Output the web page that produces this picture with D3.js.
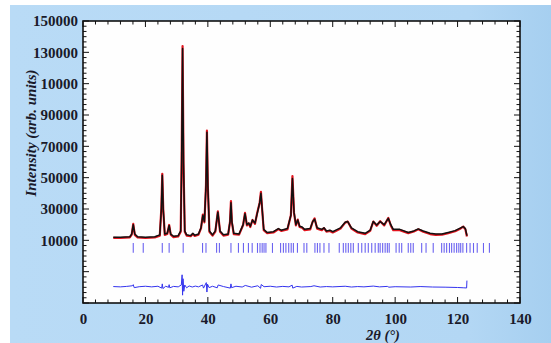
<!DOCTYPE html>
<html><head><meta charset="utf-8">
<script src="https://cdn.jsdelivr.net/npm/d3@7"></script>
<style>html,body{margin:0;padding:0;background:#fff;}svg{display:block;}</style>
</head><body>
<svg id="c" width="551" height="343"></svg>
<script>
// ---- data ----
const twoTheta = [9.7,12,15,15.6,16.1,16.6,17.5,20,23,24.6,25.1,25.4,25.7,26.2,27.0,27.6,28.1,29,30.5,31.3,31.6,31.9,32.2,32.6,33.2,34.5,35.2,35.8,37.0,37.8,38.4,38.9,39.4,39.7,40.0,40.5,41.5,42.4,43.2,43.9,45,46.5,47.1,47.4,47.7,48.3,50,51.3,51.9,52.5,53.1,53.6,54.3,55.1,55.8,56.6,57.0,57.4,57.9,59,61,62.6,63.5,65.5,66.6,67.1,67.6,68.2,68.8,69.4,70.2,71,72.8,73.6,74.2,75,76.5,77.2,78,79.1,80,81,82.5,84,84.8,86,88,90.4,92,93,94.1,95.2,96.5,97.8,98.6,99.4,101.5,104.2,106,107.4,109,111.2,113,115,117,119.2,121,121.8,122.5,123];
const calcIntensity = [12000,12000,12300,14000,20000,14000,12300,12000,12300,13500,30000,51500,30000,14000,14500,19500,14000,12600,13000,16000,60000,132500,60000,16000,13500,13000,14500,13200,14000,18000,26000,22000,45000,79000,45000,16000,13500,16000,28000,16000,13500,14000,22000,34000,22000,14500,14000,20000,27000,20000,21000,19000,23000,21000,27000,34000,40000,30000,17000,15000,15500,17500,16500,17500,26000,49500,28000,20000,23000,19000,18500,17000,17500,22000,23500,18000,17000,18000,16000,16500,15500,16500,18000,21500,22000,18000,15500,14500,16500,22000,19800,22000,20000,24000,20000,17000,17000,15000,16000,17300,16000,14500,14000,14000,15000,16200,18000,18800,17500,13000];
const obsIntensity = [11600,11500,11900,13600,20500,13500,11800,11500,11800,13000,30500,52500,30000,13500,14000,19800,13600,12100,12500,15500,60000,134000,59000,15500,13000,12600,14000,12800,13600,17600,26500,21500,45000,80000,44000,15500,13000,15600,28500,15500,13000,13600,22000,35000,21500,14000,13600,19800,27500,19500,20800,18500,23000,20500,27500,34000,41000,29500,16500,14600,15000,17200,16000,17000,26000,51000,27500,19500,23200,18500,18000,16500,17000,22000,24000,17500,16500,17800,15500,16000,15000,16000,17500,21300,22000,17500,15000,14000,16000,22000,19300,22200,19500,24300,19500,16500,16500,14600,15600,17000,15500,14000,13500,13600,14500,15800,17600,18800,17000,12500];
const diffTheta = [9.7,12,14,15.8,16.1,16.4,18,20,22,24,25.2,25.4,25.6,26.5,27.4,27.6,27.8,29,30.5,31.5,31.75,31.9,32.05,32.3,32.6,33.2,34,35,36,37,38.3,38.6,39.5,39.7,39.9,40.4,41.5,43,43.3,45,47.2,47.4,47.6,49,51,52,54,56,56.9,57.1,58,60,62,64,66,67,67.2,68.5,70,73,74,76,78,80,84,86,88,90,93,95,97.5,98,100,105,108,112,116,120,122,122.9,123];
const diffIntensity = [-19500,-19700,-19400,-19000,-18300,-20200,-19600,-19300,-19700,-19300,-20500,-17800,-20800,-19300,-20000,-18300,-20300,-19400,-19700,-18500,-12000,-25000,-14500,-22500,-18500,-20300,-19100,-19800,-19200,-19700,-18500,-20500,-17000,-23000,-18000,-20200,-19300,-20300,-18500,-19500,-20500,-17800,-20200,-19300,-19800,-18800,-19900,-19000,-20600,-18200,-19600,-19300,-19800,-19400,-19700,-18600,-20500,-19400,-19800,-19500,-19000,-19800,-19500,-19700,-19300,-19800,-19500,-19700,-19200,-19700,-19400,-19900,-19600,-19800,-19500,-19800,-19900,-20100,-20300,-20400,-15700];
const braggPositions = [16.1,19.3,25.4,27.6,32.1,38.3,39.4,42.8,43.7,47.4,49.8,51.4,53,54.2,55.9,56.7,57.4,58,58.6,60.7,63.3,64.2,65,65.9,66.7,67.4,68.7,70.8,71.7,74.3,75.1,75.9,77.2,78.8,82.1,83.4,84.2,85,85.8,86.6,88.2,89.3,90.4,91.4,92.5,93.6,94.6,95.2,96,96.8,97.5,98.1,100.3,101.3,102.1,104.2,105,105.8,108.5,109.9,112.2,114.9,115.7,116.5,117.4,118.1,118.9,119.7,120.4,121,121.7,122.9,124,125.1,126.3,128.3,130.2];
const braggRange = [2000, 8300];
const xTicks = [0,20,40,60,80,100,120,140];
const yTicks = [10000,30000,50000,70000,90000,110000,130000,150000];
const yTickLabels = ["10000","30000","50000","70000","90000","10000","130000","150000"];
const xTitle = "2θ (°)";
const yTitle = "Intensity (arb. units)";

// ---- drawing ----
const svg = d3.select("#c");
const W = 551, H = 343;
const L = 83, R = 520, T = 21, B = 303;
const x = d3.scaleLinear().domain([0,140]).range([L,R]);
const y = d3.scaleLinear().domain([-30000,150000]).range([B,T]);

const defs = svg.append("defs");
const g1 = defs.append("linearGradient").attr("id","bg").attr("x1","0").attr("y1","0").attr("x2","1").attr("y2","0");
g1.append("stop").attr("offset","0").attr("stop-color","#b9dbf6");
g1.append("stop").attr("offset","0.85").attr("stop-color","#b3d7f4");
g1.append("stop").attr("offset","1").attr("stop-color","#a6cff0");
svg.append("rect").attr("x",10).attr("y",5).attr("width",W-10).attr("height",H-5).attr("fill","url(#bg)");
svg.append("rect").attr("x",L).attr("y",T).attr("width",R-L).attr("height",B-T).attr("fill","#fefefe");

const font = "'Liberation Serif','Times New Roman',serif";

// minor ticks
const xMinor = d3.range(0,140.01,4);
const yMinor = d3.range(0,55).map(k => -30000 + k*20000/6).filter(v => v <= 150000.1);
const tk = svg.append("g").attr("stroke","#111").attr("stroke-width",1);
xMinor.forEach(v => {
  const len = (v % 20 === 0) ? 6 : 3.5;
  tk.append("line").attr("x1",x(v)).attr("x2",x(v)).attr("y1",B).attr("y2",B-len);
  tk.append("line").attr("x1",x(v)).attr("x2",x(v)).attr("y1",T).attr("y2",T+len);
});
yMinor.forEach(v => {
  const r = ((v - 10000) % 20000 + 20000) % 20000;
  const isMajor = r < 1 || Math.abs(r - 20000) < 1;
  const len = isMajor ? 6 : 3.5;
  tk.append("line").attr("x1",L).attr("x2",L+len).attr("y1",y(v)).attr("y2",y(v));
  tk.append("line").attr("x1",R).attr("x2",R-len).attr("y1",y(v)).attr("y2",y(v));
});

// axes (labels)
const xAxis = d3.axisBottom(x).tickValues(xTicks).tickSize(0).tickPadding(10).tickFormat(d3.format("d"));
const gx = svg.append("g").attr("transform",`translate(0,${B})`).call(xAxis);
gx.select(".domain").remove();
gx.selectAll("text").attr("font-family",font).attr("font-weight","bold").attr("font-size",15).attr("fill","#1a1a2a");

const yAxis = d3.axisLeft(y).tickValues(yTicks).tickSize(0).tickPadding(5).tickFormat((d,i) => yTickLabels[i]);
const gy = svg.append("g").attr("transform",`translate(${L},0)`).call(yAxis);
gy.select(".domain").remove();
gy.selectAll("text").attr("font-family",font).attr("font-weight","bold").attr("font-size",15).attr("fill","#1a1a2a");

// Bragg ticks
svg.append("g").selectAll("line").data(braggPositions).join("line")
  .attr("x1",d=>x(d)).attr("x2",d=>x(d)).attr("y1",y(braggRange[1])).attr("y2",y(braggRange[0]))
  .attr("stroke","#6b63f0").attr("stroke-width",1.1);

// observed
const obsLine = d3.line().x((d,i)=>x(twoTheta[i])).y(d=>y(d));
svg.append("path").attr("d",obsLine(obsIntensity)).attr("fill","none").attr("stroke","#e3141e").attr("stroke-width",2.2).attr("stroke-linejoin","round");
// calculated
svg.append("path").attr("d",obsLine(calcIntensity)).attr("fill","none").attr("stroke","#111").attr("stroke-width",1.5).attr("stroke-linejoin","round");
// difference
const diffLine = d3.line().x((d,i)=>x(diffTheta[i])).y(d=>y(d));
svg.append("path").attr("d",diffLine(diffIntensity)).attr("fill","none").attr("stroke","#3333ee").attr("stroke-width",1);

// frame
svg.append("rect").attr("x",L).attr("y",T).attr("width",R-L).attr("height",B-T).attr("fill","none").attr("stroke","#111").attr("stroke-width",1.6);

// titles
svg.append("text").attr("x",383).attr("y",340).attr("text-anchor","middle")
  .attr("font-family",font).attr("font-style","italic").attr("font-weight","bold").attr("font-size",14.5).attr("fill","#1a1a2a").text(xTitle);
svg.append("text").attr("transform","translate(36,133) rotate(-90)").attr("text-anchor","middle")
  .attr("font-family",font).attr("font-style","italic").attr("font-weight","bold").attr("font-size",15).attr("fill","#1a1a2a").text(yTitle);
</script>
</body></html>
